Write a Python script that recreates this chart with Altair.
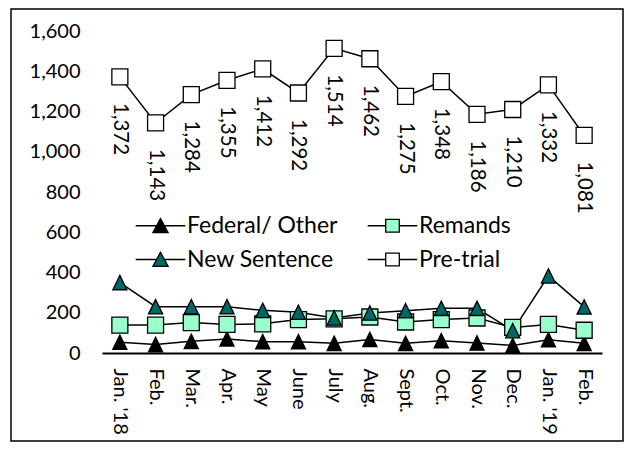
import json
import altair as alt
import pandas as pd

months = ["Jan. '18", "Feb.", "Mar.", "Apr.", "May", "June", "July",
          "Aug.", "Sept.", "Oct.", "Nov.", "Dec.", "Jan. '19", "Feb."]
series_names = ["Federal/ Other", "Remands", "New Sentence", "Pre-trial"]
federal = [54, 42, 58, 70, 56, 56, 48, 67, 48, 61, 50, 37, 66, 48]
remands = [139, 139, 151, 142, 145, 166, 170, 179, 154, 166, 174, 127, 142, 113]
new_sentence = [350, 230, 230, 230, 212, 203, 174, 199, 210, 222, 222, 111, 383, 229]
pretrial = [1372, 1143, 1284, 1355, 1412, 1292, 1514, 1462, 1275, 1348, 1186, 1210, 1332, 1081]
y_ticks = [0, 200, 400, 600, 800, 1000, 1200, 1400, 1600]

fills = ["#000000", "#99FFCC", "#006666", "#FFFFFF"]
TRI = "M0,-0.9L0.88,0.9L-0.88,0.9Z"
SQ = "M-1,-1H1V1H-1Z"
marker_paths = [TRI, SQ, TRI, SQ]
LINE = "M-3.1,0H-0.45M0.45,0H3.1"
LINE_SQ = "M-3.1,0H-0.85M0.85,0H3.1"
legend_paths = [LINE + "M0,-0.9L0.95,0.85L-0.95,0.85Z",
                LINE_SQ + "M-0.85,-0.8H0.85V0.8H-0.85Z",
                LINE + "M0,-0.9L0.95,0.85L-0.95,0.85Z",
                LINE_SQ + "M-0.85,-0.8H0.85V0.8H-0.85Z"]

rows = []
for name, vals in zip(series_names, [federal, remands, new_sentence, pretrial]):
    for i, v in enumerate(vals):
        rows.append({"idx": i, "series": name, "value": v})
df = pd.DataFrame(rows)

FONT = "Lato"
label_expr = json.dumps(months) + "[datum.value]"

x_enc = alt.X("idx:O",
              scale=alt.Scale(type="point", padding=0.5),
              axis=alt.Axis(title=None, labelExpr=label_expr, labelAngle=90,
                            labelAlign="left", labelBaseline="middle",
                            ticks=False, tickSize=0, labelPadding=15,
                            domainColor="black", domainWidth=2,
                            labelFont=FONT, labelFontSize=20, labelColor="black"))
y_enc = alt.Y("value:Q",
              scale=alt.Scale(domain=[0, 1600], nice=False),
              axis=alt.Axis(title=None, values=y_ticks, format=",d", grid=False,
                            domain=False, ticks=False, tickSize=0, labelPadding=22,
                            labelFont=FONT, labelFontSize=20, labelColor="black"))

base = alt.Chart(df)

lines = base.mark_line(color="black", strokeWidth=1.5).encode(
    x=x_enc, y=y_enc, detail="series:N")

points = base.mark_point(filled=True, stroke="black", strokeWidth=1.3,
                         size=256, opacity=1).encode(
    x=x_enc, y=y_enc,
    shape=alt.Shape("series:N", scale=alt.Scale(domain=series_names, range=marker_paths),
                    legend=None),
    fill=alt.Fill("series:N", scale=alt.Scale(domain=series_names, range=fills),
                  legend=None),
)

labels = base.transform_filter(alt.datum.series == "Pre-trial").mark_text(
    angle=90, align="left", baseline="middle", dx=26,
    font=FONT, fontSize=20.5, color="black").encode(
    x=x_enc, y=y_enc, text=alt.Text("value:Q", format=",d"))

leg = alt.Legend(title=None, orient="none", legendX=47, legendY=183,
                 direction="horizontal", columns=2, columnPadding=27, rowPadding=10,
                 symbolSize=256, symbolStrokeColor="black",
                 symbolStrokeWidth=1.3, labelOffset=15,
                 labelFont=FONT, labelFontSize=23,
                 labelColor="black", symbolOpacity=1)

legend_layer = alt.Chart(pd.DataFrame({"series": series_names, "v": [0, 0, 0, 0]})).transform_filter(
    alt.datum.v > 1).mark_point(filled=True, strokeWidth=1.3,
                                size=256, opacity=1).encode(
    shape=alt.Shape("series:N", scale=alt.Scale(domain=series_names, range=legend_paths),
                    legend=leg),
    fill=alt.Fill("series:N", scale=alt.Scale(domain=series_names, range=fills),
                  legend=leg),
    stroke=alt.Stroke("series:N", scale=alt.Scale(domain=series_names,
                                                  range=["black"] * 4),
                      legend=leg),
)

border = alt.Chart(pd.DataFrame({"a": [0]})).mark_rect(
    fill=None, stroke="black", strokeWidth=1.5).encode(
    x=alt.value(-91), x2=alt.value(521), y=alt.value(-22), y2=alt.value(410))

chart = alt.layer(lines, points, labels, legend_layer, border).resolve_scale(
    shape="independent", fill="independent", stroke="independent"
).properties(
    width=500, height=322,
    padding={"left": 94, "top": 23, "right": 22, "bottom": 89},
    autosize=alt.AutoSizeParams(type="none"),
).configure_view(stroke=None)

chart.save("out.html", embed_options={"renderer": "svg", "actions": False})
